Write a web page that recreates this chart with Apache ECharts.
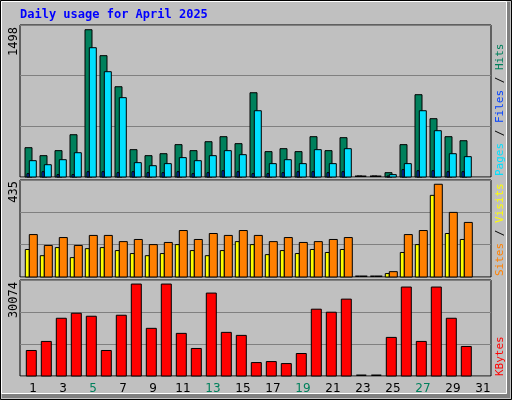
<!DOCTYPE html>
<html><head><meta charset="utf-8">
<script src="https://cdn.jsdelivr.net/npm/echarts@6/dist/echarts.min.js"></script>
<style>html,body{margin:0;padding:0;background:#c0c0c0}#c{width:512px;height:400px}</style>
</head><body><div id="c"></div>
<script>
const days = Array.from({length:31},(_,i)=>String(i+1));
const weekends = ['5','6','12','13','19','20','26','27'];
const hits  = [298,217,268,430,1498,1234,918,278,217,237,329,268,359,410,339,857,258,288,258,410,268,400,0,0,44,329,837,593,410,369,0];
const files = [166,125,176,247,1315,1071,807,146,115,136,197,166,217,268,227,674,136,176,136,278,136,288,0,0,24,136,674,471,237,207,0];
const pages = [34,54,24,24,54,54,44,54,44,44,54,34,44,64,54,34,34,44,54,54,44,54,0,0,10,75,64,64,54,54,0];
const sites = [199,148,185,148,195,195,166,176,152,162,218,176,204,195,218,195,166,185,162,166,176,185,0,0,25,199,218,435,303,256,0];
const visits= [129,100,138,91,133,138,124,110,100,110,152,124,100,124,166,152,105,124,110,129,115,129,0,0,16,115,152,383,204,176,0];
const kbytes= [8345,11309,18886,20533,19544,8345,19874,30074,15592,30074,13945,9004,27121,14274,13286,4392,4721,4063,7357,21850,20862,25144,0,0,12627,29096,11309,29096,18886,9662,0];
const maxLabels = ['1498','435','30074'];

function barSeries(vals, dx, w, color, ai){
  return {type:'custom', xAxisIndex:ai, yAxisIndex:ai,
    data: vals.map((v,i)=>[i,v]), encode:{x:0,y:1}, silent:true,
    renderItem:function(params, api){
      const i=api.value(0), v=api.value(1);
      if(i===30) return null;
      const b=api.coord([i,0]), t=api.coord([i,v]);
      const x=b[0]+dx;
      if(v===0) return {type:'rect', shape:{x:x, y:b[1]-1.5, width:w, height:1.5}, style:{fill:'#000'}};
      return {type:'rect', shape:{x:x, y:t[1], width:w, height:b[1]-t[1]},
        style:{fill:color, stroke:'#000', lineWidth:1}};
    }};
}
const panels=[{top:25,h:152,max:1546},{top:180,h:97,max:455},{top:280,h:96,max:31400}];
const grids=[], xAxes=[], yAxes=[];
panels.forEach((p,k)=>{
  grids.push({left:25.5, width:465, top:p.top, height:p.h});
  xAxes.push({type:'category', gridIndex:k, data:days, boundaryGap:true,
    axisLine:{show:false}, axisTick:{show:false},
    axisLabel:{show:k===2, margin:7, fontSize:12, fontFamily:'DejaVu Sans',
      color:(v)=>weekends.includes(v)?'#00805c':'#000'}});
  yAxes.push({type:'value', gridIndex:k, min:0, max:p.max, show:false, splitLine:{show:false}});
});
panels.forEach((p,k)=>{
  grids.push({left:20, width:471, top:p.top, height:p.h, show:true, borderColor:'#000', borderWidth:1, backgroundColor:'transparent', z:0});
  xAxes.push({type:'value', gridIndex:k+3, min:0, max:1, show:false});
  yAxes.push({type:'value', gridIndex:k+3, min:0, max:3, interval:1, axisLabel:{show:false}, axisLine:{show:false}, axisTick:{show:false},
    splitLine:{show:true, lineStyle:{color:'#808080', width:1}}});
});
const series=[
  barSeries(hits,-8,7,'#00805c',0),
  barSeries(pages,-6,2,'#0040ff',0),
  barSeries(files,-3.7,7,'#00e0ff',0),
  barSeries(visits,-7.7,4,'#ffff00',1),
  barSeries(sites,-3.7,8,'#ff8000',1),
  barSeries(kbytes,-6.7,10,'#ff0000',2)
];
series[1].z=3; series[2].z=2; series[0].z=2;
// draw pages on top of files? pages sit inside hits, behind files
series[1].z=2.5;
const rot=(t,x,y,extra)=>Object.assign({type:'text', x:x, y:y, rotation:Math.PI/2,
  style:{text:t, font:'12px "DejaVu Sans Mono"', fill:'#000', align:'right', verticalAlign:'middle'}},extra||{});
const chart=echarts.init(document.getElementById('c'));
chart.setOption({
  backgroundColor:'#c0c0c0', animation:false,
  grid:grids, xAxis:xAxes, yAxis:yAxes, series:series,
  graphic:[
    {type:'rect', shape:{x:0.5,y:0.5,width:511,height:399}, style:{fill:'none', stroke:'#000', lineWidth:1}, z:-1},
    {type:'rect', shape:{x:1.5,y:1.5,width:505,height:392}, style:{fill:'none', stroke:'#fff', lineWidth:1}, z:-1},
    {type:'rect', shape:{x:2,y:394,width:508,height:4}, style:{fill:'#808080'}, z:-1},
    {type:'rect', shape:{x:507,y:2,width:3,height:396}, style:{fill:'#808080'}, z:-1},
    {type:'text', left:20, top:9, style:{text:'Daily usage for April 2025', font:'bold 12px "DejaVu Sans Mono"', fill:'#0000ff'}},
    rot(maxLabels[0],14,27),
    rot(maxLabels[1],14,181),
    rot(maxLabels[2],14,282),
    {type:'text', x:500, y:176, rotation:Math.PI/2, style:{rich:{a:{fill:'#00e0ff'},b:{fill:'#0040ff'},c:{fill:'#00805c'},s:{fill:'#000'}},
      text:'{a|Pages}{s| / }{b|Files}{s| / }{c|Hits}', font:'11px "DejaVu Sans Mono"', verticalAlign:'middle'}},
    {type:'text', x:500, y:276, rotation:Math.PI/2, style:{rich:{a:{fill:'#ff8000'},b:{fill:'#ffff00'},s:{fill:'#000'}},
      text:'{a|Sites}{s| / }{b|Visits}', font:'11px "DejaVu Sans Mono"', verticalAlign:'middle'}},
    {type:'text', x:500, y:376, rotation:Math.PI/2, style:{text:'KBytes', fill:'#ff0000', font:'11px "DejaVu Sans Mono"', verticalAlign:'middle'}}
  ]
});
</script></body></html>
